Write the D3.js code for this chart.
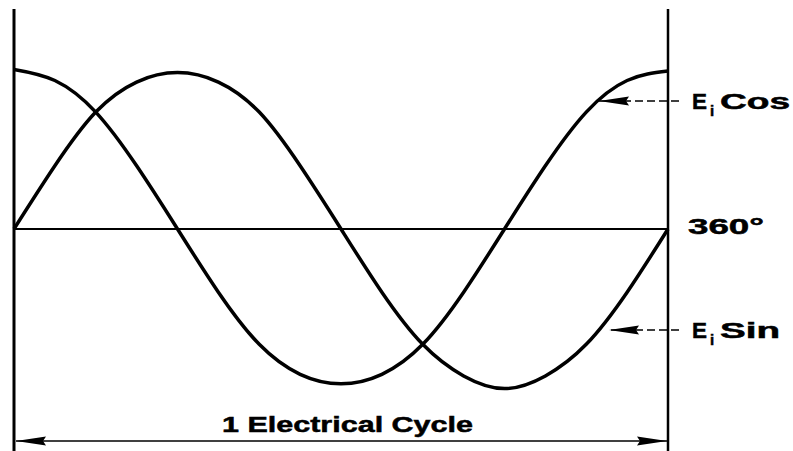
<!DOCTYPE html>
<html>
<head>
<meta charset="utf-8">
<script src="https://cdn.jsdelivr.net/npm/d3@7"></script>
<style>
  body { margin: 0; background: #fff; }
  text { font-family: "Liberation Sans", Arial, sans-serif; font-weight: bold; fill: #000; stroke: #000; stroke-width: 0.5px; }
</style>
</head>
<body>
<div id="chart"></div>
<script>
// electrical degrees, sampled every 22.5°
const degrees = [0, 22.5, 45, 67.5, 90, 112.5, 135, 157.5, 180, 202.5, 225, 247.5, 270, 292.5, 315, 337.5, 360];
// values (peak = 1)
const sinValues = [0, 0.40, 0.74, 0.93, 0.99, 0.93, 0.74, 0.40, 0, -0.40, -0.73, -0.93, -1.01, -0.93, -0.73, -0.40, 0];
const cosValues = [1.01, 0.94, 0.74, 0.40, 0, -0.40, -0.73, -0.92, -0.98, -0.92, -0.73, -0.40, 0, 0.40, 0.74, 0.94, 1.00];
const labels = [
    {name: "Cos", tip: 599, y: 101},
    {name: "Sin", tip: 609, y: 330}
];
const axisLabel = "360°";
const cycleLabel = "1 Electrical Cycle";

function drawChart() {
    const width = 793, height = 451;
    const svg = d3.select("#chart").append("svg")
        .attr("width", width)
        .attr("height", height);

    const x = d3.scaleLinear().domain([0, 360]).range([14, 668]);
    const y = d3.scaleLinear().domain([-1, 1]).range([387, 71]);

    svg.append("defs").selectAll("marker")
        .data(["head"])
        .join("marker")
        .attr("id", d => d)
        .attr("viewBox", "0 0 30 12")
        .attr("refX", 30).attr("refY", 6)
        .attr("markerWidth", 30).attr("markerHeight", 12)
        .attr("markerUnits", "userSpaceOnUse")
        .attr("orient", "auto-start-reverse")
        .append("path")
        .attr("d", "M0,1.5 L30,6 L0,10.5 L3,6 Z")
        .attr("fill", "#000");

    // frame: two verticals and the zero line
    svg.selectAll(".vline")
        .data([0, 360])
        .join("line")
        .attr("x1", d => x(d)).attr("x2", d => x(d))
        .attr("y1", 9).attr("y2", height)
        .attr("stroke", "#000")
        .attr("stroke-width", (d, i) => i === 0 ? 3 : 2.5);

    svg.append("line")
        .attr("x1", x(0)).attr("x2", x(360))
        .attr("y1", y(0)).attr("y2", y(0))
        .attr("stroke", "#000")
        .attr("stroke-width", 2);

    const line = d3.line()
        .x((d, i) => x(degrees[i]))
        .y(d => y(d))
        .curve(d3.curveNatural);

    svg.selectAll(".wave")
        .data([sinValues, cosValues])
        .join("path")
        .attr("d", line)
        .attr("fill", "none")
        .attr("stroke", "#000")
        .attr("stroke-width", 3.5);

    // dashed pointers with labels
    labels.forEach(function (l) {
        const yy = l.y;
        svg.append("line")
            .attr("x1", 679).attr("x2", l.tip)
            .attr("y1", yy).attr("y2", yy)
            .attr("stroke", "#000")
            .attr("stroke-width", 1.5)
            .attr("stroke-dasharray", "8,4")
            .attr("marker-end", "url(#head)");
        svg.append("text")
            .attr("x", 692)
            .attr("y", yy + 8)
            .attr("font-size", 22)
            .attr("textLength", 15)
            .attr("lengthAdjust", "spacingAndGlyphs")
            .text("E");
        svg.append("text")
            .attr("x", 710)
            .attr("y", yy + 15)
            .attr("font-size", 15)
            .text("i");
        svg.append("text")
            .attr("x", 720)
            .attr("y", yy + 8)
            .attr("font-size", 22)
            .attr("textLength", l.name === "Cos" ? 70 : 60)
            .attr("lengthAdjust", "spacingAndGlyphs")
            .text(l.name);
    });

    svg.append("text")
        .attr("x", 688)
        .attr("y", 234)
        .attr("font-size", 22)
        .attr("textLength", 76)
        .attr("lengthAdjust", "spacingAndGlyphs")
        .text(axisLabel);

    // 1 electrical cycle dimension
    svg.append("line")
        .attr("x1", x(0) + 2).attr("x2", x(360) - 1)
        .attr("y1", 441).attr("y2", 441)
        .attr("stroke", "#000")
        .attr("stroke-width", 1.5)
        .attr("marker-start", "url(#head)")
        .attr("marker-end", "url(#head)");

    svg.append("text")
        .attr("x", 222)
        .attr("y", 432)
        .attr("font-size", 22)
        .attr("textLength", 251)
        .attr("lengthAdjust", "spacingAndGlyphs")
        .text(cycleLabel);
}
drawChart();
</script>
</body>
</html>
